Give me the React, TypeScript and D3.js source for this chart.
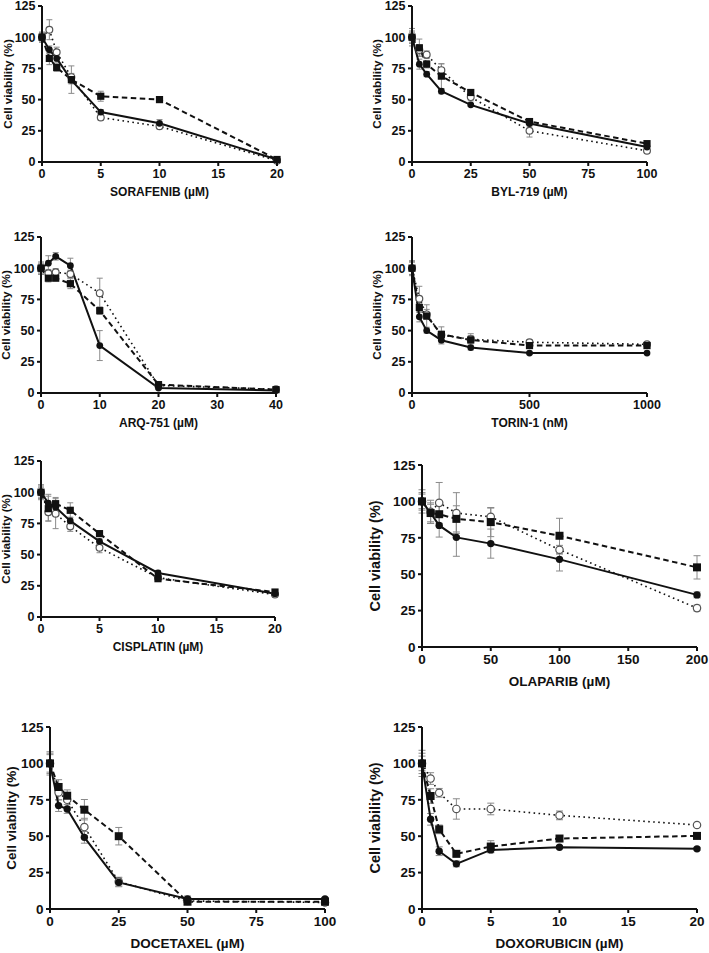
import React from "react";
import * as d3 from "d3";

// ---------- DATA ----------
const sorafenibX = [0, 0.625, 1.25, 2.5, 5, 10, 20];
const sorafenibSolid = [100, 90, 83, 65.6, 40, 31, 2];
const sorafenibSolidErr = [4, 3, 3, 3, 2, 3, 1];
const sorafenibSquare = [100, 83, 75.7, 66, 52.7, 50, 2];
const sorafenibSquareErr = [3, 5, 3, 11, 4, 2, 1];
const sorafenibOpen = [100, 106, 88, 68, 35.6, 28.6, 1];
const sorafenibOpenErr = [4, 8, 4, 3, 2, 2, 1];

const bylX = [0, 3.125, 6.25, 12.5, 25, 50, 100];
const bylSolid = [100, 78.4, 70.4, 56.7, 45.8, 30.8, 12];
const bylSolidErr = [7, 4, 2, 2, 1, 2, 2];
const bylSquare = [100, 91.5, 78.4, 68.8, 55.7, 32.4, 14.7];
const bylSquareErr = [4, 7, 3, 10, 2, 2, 2];
const bylOpen = [100, 89.7, 86, 73.6, 52, 25, 9];
const bylOpenErr = [5, 4, 3, 5, 3, 5, 2];

const arqX = [0, 1.25, 2.5, 5, 10, 20, 40];
const arqSolid = [100, 104, 109.5, 102, 38, 4, 2];
const arqSolidErr = [5, 6, 3, 6, 12, 1, 1];
const arqSquare = [100, 92, 92, 87.6, 66, 6.7, 2.7];
const arqSquareErr = [4, 3, 2, 4, 3, 1, 1];
const arqOpen = [100, 96, 96.7, 95.4, 80, 6, 3];
const arqOpenErr = [3, 3, 3, 3, 12, 1, 1];

const torinX = [0, 31.25, 62.5, 125, 250, 500, 1000];
const torinSolid = [100, 61, 50, 42.3, 36.4, 32, 32];
const torinSolidErr = [6, 4, 2, 3, 2, 1, 1];
const torinSquare = [100, 68.6, 61.7, 47, 42.5, 38, 38];
const torinSquareErr = [5, 4, 9, 6, 5, 1, 1];
const torinOpen = [100, 75.5, 63, 46.5, 43, 40.7, 39];
const torinOpenErr = [5, 10, 4, 3, 3, 2, 1];

const cisplatinX = [0, 0.625, 1.25, 2.5, 5, 10, 20];
const cisplatinSolid = [100, 91.3, 88, 77, 60.6, 35.3, 18.7];
const cisplatinSolidErr = [6, 7, 4, 3, 2, 2, 2];
const cisplatinSquare = [100, 86.8, 90.8, 85.5, 66.8, 30.7, 20];
const cisplatinSquareErr = [5, 10, 5, 6, 2, 2, 2];
const cisplatinOpen = [100, 84, 82.8, 72.6, 55.5, 31.5, 18];
const cisplatinOpenErr = [4, 7, 12, 4, 4, 2, 2];

const olaparibX = [0, 6.25, 12.5, 25, 50, 100, 200];
const olaparibSolid = [100, 92, 83.5, 75.3, 71, 60.2, 35.8];
const olaparibSolidErr = [8, 7, 8, 13, 10, 8, 2];
const olaparibSquare = [100, 92, 91.2, 88, 85.8, 76.4, 54.7];
const olaparibSquareErr = [6, 6, 8, 9, 10, 12, 8];
const olaparibOpen = [100, 92.8, 99, 92, 89.4, 66.8, 26.7];
const olaparibOpenErr = [5, 8, 14, 14, 6, 3, 2];

const docetaxelX = [0, 3.125, 6.25, 12.5, 25, 50, 100];
const docetaxelSolid = [100, 71, 68.7, 49.2, 18.3, 6.9, 6.9];
const docetaxelSolidErr = [8, 4, 3, 4, 3, 2, 1];
const docetaxelSquare = [100, 83.8, 77.8, 68.2, 50, 5, 5];
const docetaxelSquareErr = [7, 5, 4, 7, 6, 1, 1];
const docetaxelOpen = [100, 80, 75, 56.3, 18.8, 5.5, 4.5];
const docetaxelOpenErr = [6, 5, 5, 6, 3, 1, 1];

const doxoX = [0, 0.625, 1.25, 2.5, 5, 10, 20];
const doxoSolid = [100, 61.6, 39.7, 31, 40.6, 42.4, 41.3];
const doxoSolidErr = [9, 4, 3, 2, 2, 1, 1];
const doxoSquare = [100, 77.6, 54.7, 37.9, 42.9, 48.4, 50.2];
const doxoSquareErr = [7, 5, 3, 2, 4, 2, 1];
const doxoOpen = [100, 89.6, 79.8, 68.7, 68.7, 64.3, 57.7];
const doxoOpenErr = [5, 4, 3, 7, 4, 3, 1];

const yTicks = [0, 25, 50, 75, 100, 125];
const yLabel = "Cell viability (%)";
const xTicks20 = [0, 5, 10, 15, 20];
const xTicks100 = [0, 25, 50, 75, 100];
const xTicks40 = [0, 10, 20, 30, 40];
const xTicks1000 = [0, 500, 1000];
const xTicks200 = [0, 50, 100, 150, 200];

// ---------- PANELS ----------
type PanelDef = {
  title: string;
  x: number[];
  xMax: number;
  xTicks: number[];
  solid: number[]; solidErr: number[];
  square: number[]; squareErr: number[];
  open: number[]; openErr: number[];
  // layout
  left: number; right: number; bottom: number; top: number;
  yTitleX: number; tickFont: number; titleFont: number; yTitleFont: number;
};

const panels: PanelDef[] = [
  { title: "SORAFENIB (\u00B5M)", x: sorafenibX, xMax: 20, xTicks: xTicks20,
    solid: sorafenibSolid, solidErr: sorafenibSolidErr, square: sorafenibSquare, squareErr: sorafenibSquareErr, open: sorafenibOpen, openErr: sorafenibOpenErr,
    left: 42, right: 277, bottom: 162, top: 6, yTitleX: 8, tickFont: 12.5, titleFont: 12, yTitleFont: 11.7 },
  { title: "BYL-719 (\u00B5M)", x: bylX, xMax: 100, xTicks: xTicks100,
    solid: bylSolid, solidErr: bylSolidErr, square: bylSquare, squareErr: bylSquareErr, open: bylOpen, openErr: bylOpenErr,
    left: 412, right: 647, bottom: 162, top: 6, yTitleX: 377, tickFont: 12.5, titleFont: 12, yTitleFont: 11.7 },
  { title: "ARQ-751 (\u00B5M)", x: arqX, xMax: 40, xTicks: xTicks40,
    solid: arqSolid, solidErr: arqSolidErr, square: arqSquare, squareErr: arqSquareErr, open: arqOpen, openErr: arqOpenErr,
    left: 41, right: 276, bottom: 393, top: 237, yTitleX: 6, tickFont: 12.5, titleFont: 12, yTitleFont: 11.7 },
  { title: "TORIN-1 (nM)", x: torinX, xMax: 1000, xTicks: xTicks1000,
    solid: torinSolid, solidErr: torinSolidErr, square: torinSquare, squareErr: torinSquareErr, open: torinOpen, openErr: torinOpenErr,
    left: 412, right: 647, bottom: 393, top: 237, yTitleX: 377, tickFont: 12.5, titleFont: 12, yTitleFont: 11.7 },
  { title: "CISPLATIN (\u00B5M)", x: cisplatinX, xMax: 20, xTicks: xTicks20,
    solid: cisplatinSolid, solidErr: cisplatinSolidErr, square: cisplatinSquare, squareErr: cisplatinSquareErr, open: cisplatinOpen, openErr: cisplatinOpenErr,
    left: 41, right: 275, bottom: 617, top: 461, yTitleX: 6, tickFont: 12.5, titleFont: 12, yTitleFont: 11.7 },
  { title: "OLAPARIB (\u00B5M)", x: olaparibX, xMax: 200, xTicks: xTicks200,
    solid: olaparibSolid, solidErr: olaparibSolidErr, square: olaparibSquare, squareErr: olaparibSquareErr, open: olaparibOpen, openErr: olaparibOpenErr,
    left: 422, right: 697, bottom: 647, top: 465, yTitleX: 375, tickFont: 13.5, titleFont: 13.5, yTitleFont: 14.5 },
  { title: "DOCETAXEL (\u00B5M)", x: docetaxelX, xMax: 100, xTicks: xTicks100,
    solid: docetaxelSolid, solidErr: docetaxelSolidErr, square: docetaxelSquare, squareErr: docetaxelSquareErr, open: docetaxelOpen, openErr: docetaxelOpenErr,
    left: 50, right: 325, bottom: 909, top: 727, yTitleX: 11, tickFont: 13.5, titleFont: 13.5, yTitleFont: 13.5 },
  { title: "DOXORUBICIN (\u00B5M)", x: doxoX, xMax: 20, xTicks: xTicks20,
    solid: doxoSolid, solidErr: doxoSolidErr, square: doxoSquare, squareErr: doxoSquareErr, open: doxoOpen, openErr: doxoOpenErr,
    left: 422, right: 697, bottom: 909, top: 727, yTitleX: 375, tickFont: 13.5, titleFont: 13.5, yTitleFont: 14.5 },
];

const FONT = "'Liberation Sans', Arial, Helvetica, sans-serif";
const ERR = "#8a8a8a";

function Panel({ p }: { p: PanelDef }) {
  const xs = d3.scaleLinear().domain([0, p.xMax]).range([p.left, p.right]);
  const ys = d3.scaleLinear().domain([0, 125]).range([p.bottom, p.top]);
  const big = p.tickFont > 13;
  const line = d3.line<[number, number]>().x((d) => xs(d[0])).y((d) => ys(d[1]));
  const pts = (vals: number[]) => p.x.map((x, i) => [x, vals[i]] as [number, number]);
  const cap = big ? 3.5 : 3;
  const errBars = (vals: number[], errs: number[], key: string) =>
    p.x.map((x, i) => {
      const cx = xs(x);
      const y1 = ys(vals[i] + errs[i]);
      const y2 = ys(vals[i] - errs[i]);
      return (
        <g key={key + i} stroke={ERR} strokeWidth={1}>
          <line x1={cx} x2={cx} y1={y1} y2={y2} />
          <line x1={cx - cap} x2={cx + cap} y1={y1} y2={y1} />
          <line x1={cx - cap} x2={cx + cap} y1={y2} y2={y2} />
        </g>
      );
    });
  const r = big ? 3.7 : 3.4;
  const sq = big ? 8 : 7.2;
  const midY = (p.top + p.bottom) / 2;
  const tickLen = 4;
  return (
    <g fontFamily={FONT} fontWeight="bold">
      {errBars(p.open, p.openErr, "eo")}
      {errBars(p.square, p.squareErr, "es")}
      {errBars(p.solid, p.solidErr, "ec")}
      <path d={line(pts(p.open)) || ""} fill="none" stroke="#111" strokeWidth={1.6} strokeDasharray="1.6 3.4" strokeLinecap="butt" />
      <path d={line(pts(p.square)) || ""} fill="none" stroke="#111" strokeWidth={2} strokeDasharray="5.5 3.5" />
      <path d={line(pts(p.solid)) || ""} fill="none" stroke="#111" strokeWidth={2} />
      {pts(p.open).map((d, i) => (
        <circle key={"o" + i} cx={xs(d[0])} cy={ys(d[1])} r={r} fill="#fff" stroke="#555" strokeWidth={1.2} />
      ))}
      {pts(p.square).map((d, i) => (
        <rect key={"s" + i} x={xs(d[0]) - sq / 2} y={ys(d[1]) - sq / 2} width={sq} height={sq} fill="#111" />
      ))}
      {pts(p.solid).map((d, i) => (
        <circle key={"c" + i} cx={xs(d[0])} cy={ys(d[1])} r={r} fill="#111" />
      ))}
      {/* axes */}
      <line x1={p.left} x2={p.left} y1={p.top} y2={p.bottom} stroke="#111" strokeWidth={2} />
      <line x1={p.left} x2={p.right} y1={p.bottom} y2={p.bottom} stroke="#111" strokeWidth={2} />
      {yTicks.map((t) => (
        <g key={"yt" + t}>
          <line x1={p.left - tickLen} x2={p.left} y1={ys(t)} y2={ys(t)} stroke="#111" strokeWidth={2} />
          <text x={p.left - tickLen - 2.5} y={ys(t)} dy="0.35em" textAnchor="end" fontSize={p.tickFont} fill="#111">{t}</text>
        </g>
      ))}
      {p.xTicks.map((t) => (
        <g key={"xt" + t}>
          <line x1={xs(t)} x2={xs(t)} y1={p.bottom} y2={p.bottom + tickLen} stroke="#111" strokeWidth={2} />
          <text x={xs(t)} y={p.bottom + tickLen + 3} dy="0.75em" textAnchor="middle" fontSize={p.tickFont} fill="#111">{t}</text>
        </g>
      ))}
      <text x={(p.left + p.right) / 2} y={p.bottom + (big ? 34 : 30)} dy="0.35em" textAnchor="middle" fontSize={p.titleFont} fill="#111">{p.title}</text>
      <text transform={`translate(${p.yTitleX},${midY}) rotate(-90)`} dy="0.35em" textAnchor="middle" fontSize={p.yTitleFont} fill="#111">{yLabel}</text>
    </g>
  );
}

export default function App() {
  return (
    <svg width={709} height={953} style={{ position: "absolute", left: 0, top: 0, background: "#fff" }}>
      <rect x={0} y={0} width={709} height={953} fill="#fff" />
      {panels.map((p, i) => (
        <Panel key={i} p={p} />
      ))}
    </svg>
  );
}
